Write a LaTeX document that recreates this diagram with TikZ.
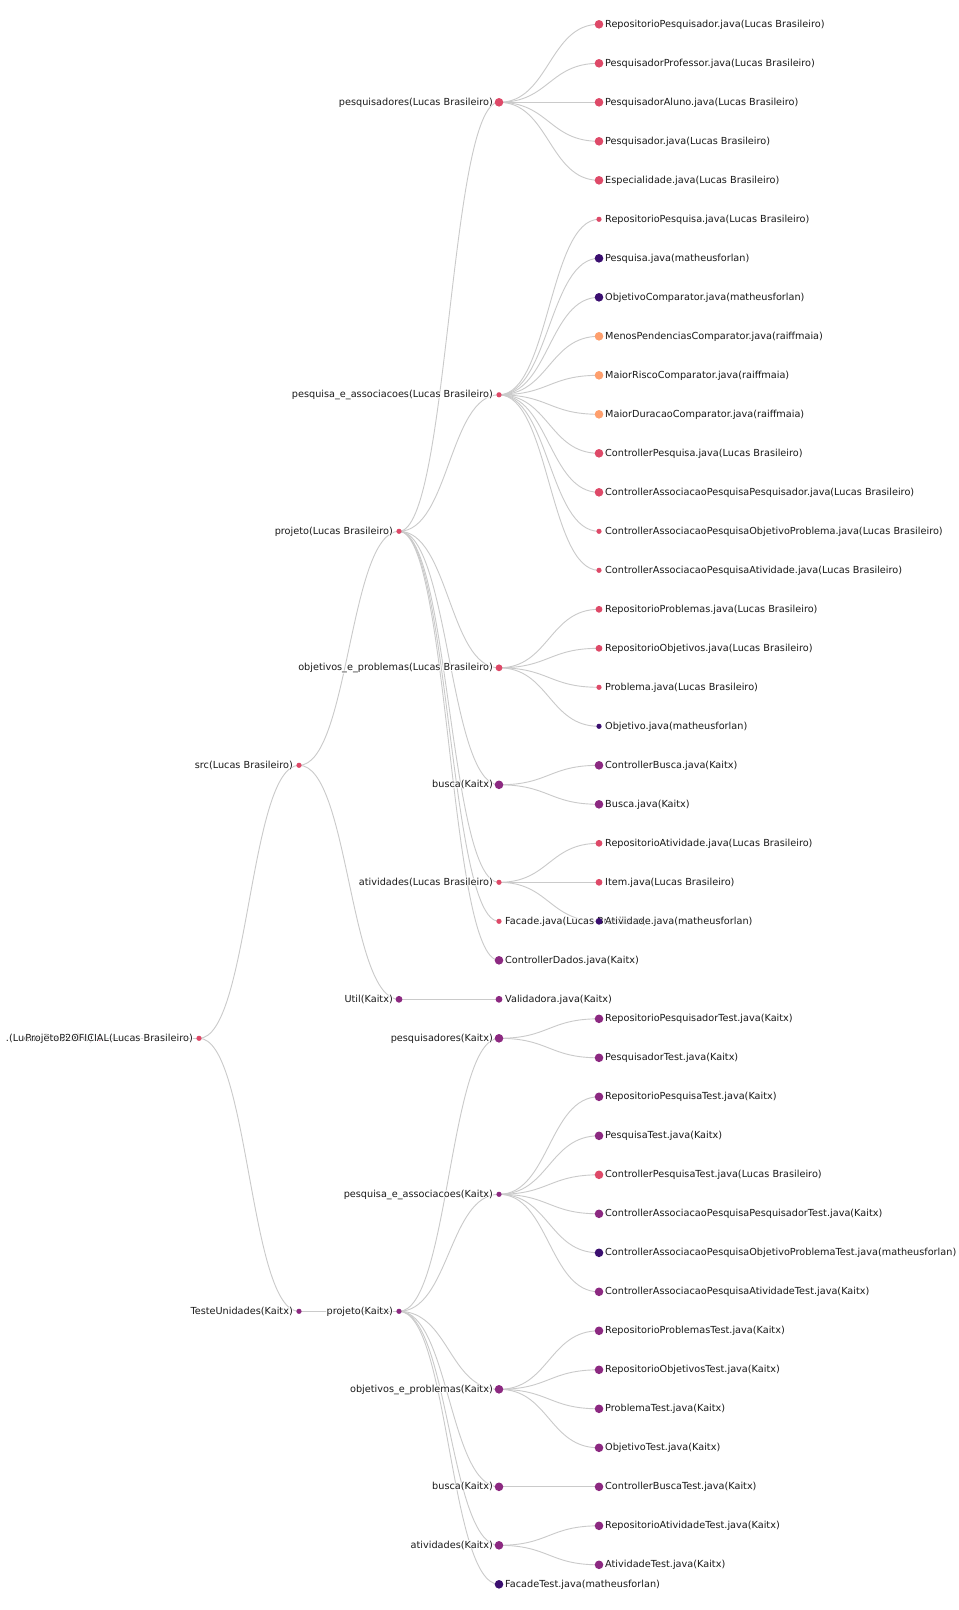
\documentclass[tikz,border=0pt]{standalone}
\usepackage{fontspec}
\setmainfont{DejaVu Sans}
\usetikzlibrary{calc}
\pgfdeclarelayer{bglayer}
\pgfsetlayers{bglayer,main}
\definecolor{colLucas}{HTML}{DE4968}
\definecolor{colKaitx}{HTML}{8C2981}
\definecolor{colMatheus}{HTML}{3B0F70}
\definecolor{colRaiff}{HTML}{FE9F6D}
\definecolor{linkc}{HTML}{CACACA}
\definecolor{txtc}{HTML}{1A1A1A}
\newcommand\hc[3]{\rlap{\kern#1\raisebox{#2}{\textcolor{white}{#3}}}}
\newcommand\halo[1]{\hc{0.9pt}{0pt}{#1}\hc{-0.9pt}{0pt}{#1}\hc{0pt}{0.9pt}{#1}\hc{0pt}{-0.9pt}{#1}\hc{0.64pt}{0.64pt}{#1}\hc{-0.64pt}{0.64pt}{#1}\hc{0.64pt}{-0.64pt}{#1}\hc{-0.64pt}{-0.64pt}{#1}\textcolor{txtc}{#1}}
\tikzset{
  dotnode/.style={circle, inner sep=0pt, draw=none},
  auL/.style={fill=colLucas}, auK/.style={fill=colKaitx},
  auM/.style={fill=colMatheus}, auR/.style={fill=colRaiff},
  szL/.style={minimum size=8.6pt}, szM/.style={minimum size=6.8pt}, szS/.style={minimum size=5.2pt},
  labR/.style={anchor=base west, inner sep=0pt, font=\fontsize{9.7pt}{11pt}\selectfont},
  labL/.style={anchor=base east, inner sep=0pt, font=\fontsize{9.7pt}{11pt}\selectfont},
  link/.style={draw=linkc, line width=0.9pt}
}
\newcommand\N[6]{%
  \node[dotnode,#4] (#1) at (#2,#3) {};
  \ifx R#6\relax
    \node[labR] (#1t) at ($(#1.center)+(6pt,-3pt)$) {\halo{#5}};
  \else
    \node[labL] (#1t) at ($(#1.center)+(-6pt,-3pt)$) {\halo{#5}};
  \fi}
\begin{document}
\begin{tikzpicture}[x=1pt,y=-39pt]
\useasboundingbox (0pt,24.3pt) rectangle (959pt,-1585.7pt);
\begin{pgfonlayer}{bglayer}
\fill[white] (0pt,24.3pt) rectangle (959pt,-1585.7pt);
\end{pgfonlayer}
% depth 0-3
\N{dz}{99}{26}{auL,szS}{.(Lucas Brasileiro)}{L}
\N{root}{199}{26}{auL,szS}{ProjetoP2OFICIAL(Lucas Brasileiro)}{L}
\N{src}{299}{19}{auL,szS}{src(Lucas Brasileiro)}{L}
\N{tu}{299}{33}{auK,szS}{TesteUnidades(Kaitx)}{L}
\N{pl}{399}{13}{auL,szS}{projeto(Lucas Brasileiro)}{L}
\N{ut}{399}{25}{auK,szM}{Util(Kaitx)}{L}
\N{pk}{399}{33}{auK,szS}{projeto(Kaitx)}{L}
% depth 4
\N{pq}{499}{2}{auL,szL}{pesquisadores(Lucas Brasileiro)}{L}
\N{pa}{499}{9.5}{auL,szS}{pesquisa\_e\_associacoes(Lucas Brasileiro)}{L}
\N{op}{499}{16.5}{auL,szM}{objetivos\_e\_problemas(Lucas Brasileiro)}{L}
\N{bu}{499}{19.5}{auK,szL}{busca(Kaitx)}{L}
\N{at}{499}{22}{auL,szS}{atividades(Lucas Brasileiro)}{L}
\N{fa}{499}{23}{auL,szS}{Facade.java(Lucas Brasileiro)}{R}
\N{cd}{499}{24}{auK,szL}{ControllerDados.java(Kaitx)}{R}
\N{va}{499}{25}{auK,szM}{Validadora.java(Kaitx)}{R}
\N{tpq}{499}{26}{auK,szL}{pesquisadores(Kaitx)}{L}
\N{tpa}{499}{30}{auK,szS}{pesquisa\_e\_associacoes(Kaitx)}{L}
\N{top}{499}{35}{auK,szL}{objetivos\_e\_problemas(Kaitx)}{L}
\N{tbu}{499}{37.5}{auK,szL}{busca(Kaitx)}{L}
\N{tat}{499}{39}{auK,szL}{atividades(Kaitx)}{L}
\N{tfa}{499}{40}{auM,szL}{FacadeTest.java(matheusforlan)}{R}
% depth 5
\N{l0}{599}{0}{auL,szL}{RepositorioPesquisador.java(Lucas Brasileiro)}{R}
\N{l1}{599}{1}{auL,szL}{PesquisadorProfessor.java(Lucas Brasileiro)}{R}
\N{l2}{599}{2}{auL,szL}{PesquisadorAluno.java(Lucas Brasileiro)}{R}
\N{l3}{599}{3}{auL,szL}{Pesquisador.java(Lucas Brasileiro)}{R}
\N{l4}{599}{4}{auL,szL}{Especialidade.java(Lucas Brasileiro)}{R}
\N{l5}{599}{5}{auL,szS}{RepositorioPesquisa.java(Lucas Brasileiro)}{R}
\N{l6}{599}{6}{auM,szL}{Pesquisa.java(matheusforlan)}{R}
\N{l7}{599}{7}{auM,szL}{ObjetivoComparator.java(matheusforlan)}{R}
\N{l8}{599}{8}{auR,szL}{MenosPendenciasComparator.java(raiffmaia)}{R}
\N{l9}{599}{9}{auR,szL}{MaiorRiscoComparator.java(raiffmaia)}{R}
\N{l10}{599}{10}{auR,szL}{MaiorDuracaoComparator.java(raiffmaia)}{R}
\N{l11}{599}{11}{auL,szL}{ControllerPesquisa.java(Lucas Brasileiro)}{R}
\N{l12}{599}{12}{auL,szL}{ControllerAssociacaoPesquisaPesquisador.java(Lucas Brasileiro)}{R}
\N{l13}{599}{13}{auL,szS}{ControllerAssociacaoPesquisaObjetivoProblema.java(Lucas Brasileiro)}{R}
\N{l14}{599}{14}{auL,szS}{ControllerAssociacaoPesquisaAtividade.java(Lucas Brasileiro)}{R}
\N{l15}{599}{15}{auL,szM}{RepositorioProblemas.java(Lucas Brasileiro)}{R}
\N{l16}{599}{16}{auL,szM}{RepositorioObjetivos.java(Lucas Brasileiro)}{R}
\N{l17}{599}{17}{auL,szS}{Problema.java(Lucas Brasileiro)}{R}
\N{l18}{599}{18}{auM,szS}{Objetivo.java(matheusforlan)}{R}
\N{l19}{599}{19}{auK,szL}{ControllerBusca.java(Kaitx)}{R}
\N{l20}{599}{20}{auK,szL}{Busca.java(Kaitx)}{R}
\N{l21}{599}{21}{auL,szM}{RepositorioAtividade.java(Lucas Brasileiro)}{R}
\N{l22}{599}{22}{auL,szM}{Item.java(Lucas Brasileiro)}{R}
\N{l23}{599}{23}{auM,szM}{Atividade.java(matheusforlan)}{R}
\N{t0}{599}{25.5}{auK,szL}{RepositorioPesquisadorTest.java(Kaitx)}{R}
\N{t1}{599}{26.5}{auK,szL}{PesquisadorTest.java(Kaitx)}{R}
\N{t2}{599}{27.5}{auK,szL}{RepositorioPesquisaTest.java(Kaitx)}{R}
\N{t3}{599}{28.5}{auK,szL}{PesquisaTest.java(Kaitx)}{R}
\N{t4}{599}{29.5}{auL,szL}{ControllerPesquisaTest.java(Lucas Brasileiro)}{R}
\N{t5}{599}{30.5}{auK,szL}{ControllerAssociacaoPesquisaPesquisadorTest.java(Kaitx)}{R}
\N{t6}{599}{31.5}{auM,szL}{ControllerAssociacaoPesquisaObjetivoProblemaTest.java(matheusforlan)}{R}
\N{t7}{599}{32.5}{auK,szL}{ControllerAssociacaoPesquisaAtividadeTest.java(Kaitx)}{R}
\N{t8}{599}{33.5}{auK,szL}{RepositorioProblemasTest.java(Kaitx)}{R}
\N{t9}{599}{34.5}{auK,szL}{RepositorioObjetivosTest.java(Kaitx)}{R}
\N{t10}{599}{35.5}{auK,szL}{ProblemaTest.java(Kaitx)}{R}
\N{t11}{599}{36.5}{auK,szL}{ObjetivoTest.java(Kaitx)}{R}
\N{t12}{599}{37.5}{auK,szL}{ControllerBuscaTest.java(Kaitx)}{R}
\N{t13}{599}{38.5}{auK,szL}{RepositorioAtividadeTest.java(Kaitx)}{R}
\N{t14}{599}{39.5}{auK,szL}{AtividadeTest.java(Kaitx)}{R}
% links
\begin{pgfonlayer}{bglayer}
\foreach \a/\b in {dz/root, root/src, root/tu, src/pl, src/ut, tu/pk,
  pl/pq, pl/pa, pl/op, pl/bu, pl/at, pl/fa, pl/cd, ut/va,
  pk/tpq, pk/tpa, pk/top, pk/tbu, pk/tat, pk/tfa,
  pq/l0, pq/l1, pq/l2, pq/l3, pq/l4,
  pa/l5, pa/l6, pa/l7, pa/l8, pa/l9, pa/l10, pa/l11, pa/l12, pa/l13, pa/l14,
  op/l15, op/l16, op/l17, op/l18, bu/l19, bu/l20, at/l21, at/l22, at/l23,
  tpq/t0, tpq/t1, tpa/t2, tpa/t3, tpa/t4, tpa/t5, tpa/t6, tpa/t7,
  top/t8, top/t9, top/t10, top/t11, tbu/t12, tat/t13, tat/t14}
  \draw[link] (\a.center) .. controls +(50,0) and +(-50,0) .. (\b.center);
\end{pgfonlayer}
\end{tikzpicture}
\end{document}
